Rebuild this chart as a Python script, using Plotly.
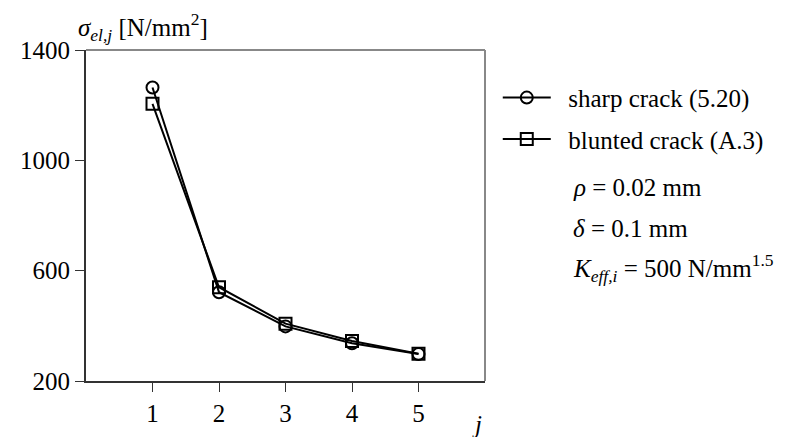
import plotly.graph_objects as go

j_values = [1, 2, 3, 4, 5]
sharp_crack = [1264, 522, 398, 337, 298]
blunted_crack = [1205, 540, 408, 345, 299]
y_ticks = [200, 600, 1000, 1400]
series_names = ["sharp crack (5.20)", "blunted crack (A.3)"]

FONT = "Liberation Serif"
PAD = "\u00a0\u00a0"  # gap between legend symbol and its text

fig = go.Figure()
fig.add_trace(go.Scatter(
    x=j_values, y=sharp_crack, mode="lines+markers", name=PAD + series_names[0],
    line=dict(color="black", width=2),
    marker=dict(symbol="circle-open", size=12, color="black", line=dict(width=2)),
    legendgroup="a",
))
fig.add_trace(go.Scatter(
    x=j_values, y=blunted_crack, mode="lines+markers", name=PAD + series_names[1],
    line=dict(color="black", width=2),
    marker=dict(symbol="square-open", size=12, color="black", line=dict(width=2)),
    legendgroup="b",
))

fig.update_layout(
    width=807, height=437,
    margin=dict(l=72, r=330, t=42, b=64),
    paper_bgcolor="white", plot_bgcolor="white",
    font=dict(family=FONT, size=25, color="black"),
    showlegend=True,
    legend=dict(
        x=1.032, y=0.925, xanchor="left", yanchor="top",
        font=dict(family=FONT, size=25, color="black"),
        bgcolor="rgba(0,0,0,0)", itemwidth=48,
        tracegroupgap=6, traceorder="grouped",
    ),
    xaxis=dict(
        range=[0, 6], tickvals=j_values, ticks="outside", ticklen=9,
        tickwidth=1, tickcolor="#333", showgrid=False, zeroline=False,
        showline=True, linecolor="#333", linewidth=2,
        tickfont=dict(family=FONT, size=25), fixedrange=True,
    ),
    yaxis=dict(
        range=[200, 1400], tickvals=y_ticks, ticks="outside", ticklen=9,
        tickwidth=1, tickcolor="#333", showgrid=False, zeroline=False,
        showline=True, linecolor="#333", linewidth=2,
        tickfont=dict(family=FONT, size=25), fixedrange=True,
    ),
    shapes=[
        dict(type="line", xref="paper", yref="paper", x0=0, x1=1, y0=1, y1=1,
             line=dict(color="#888", width=2)),
        dict(type="line", xref="paper", yref="paper", x0=1, x1=1, y0=0, y1=1,
             line=dict(color="#888", width=2)),
    ],
    annotations=[
        dict(text="<i>σ<sub>el,j</sub></i> [N/mm<sup>2</sup>]", xref="paper", yref="paper",
             x=-0.025, y=1.01, xanchor="left", yanchor="bottom", showarrow=False,
             font=dict(family=FONT, size=25)),
        dict(text="<i>j</i>", xref="paper", yref="paper",
             x=0.98, y=-0.085, xanchor="center", yanchor="top", showarrow=False,
             font=dict(family=FONT, size=25)),
        dict(text="<i>ρ</i> = 0.02 mm", xref="paper", yref="paper",
             x=1.215, y=0.585, xanchor="left", yanchor="middle", showarrow=False,
             font=dict(family=FONT, size=25)),
        dict(text="<i>δ</i> = 0.1 mm", xref="paper", yref="paper",
             x=1.215, y=0.46, xanchor="left", yanchor="middle", showarrow=False,
             font=dict(family=FONT, size=25)),
        dict(text="<i>K<sub>eff,i</sub></i> = 500 N/mm<sup>1.5</sup>", xref="paper", yref="paper",
             x=1.215, y=0.34, xanchor="left", yanchor="middle", showarrow=False,
             font=dict(family=FONT, size=25)),
    ],
)

fig.write_html("out.html")
